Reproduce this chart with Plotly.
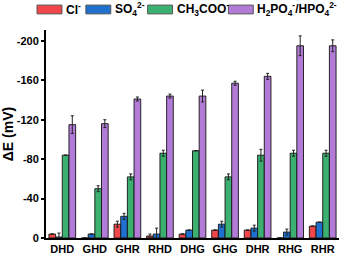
import plotly.graph_objects as go

categories = ["DHD", "GHD", "GHR", "RHD", "DHG", "GHG", "DHR", "RHG", "RHR"]

cl_vals = [-4, 0, -14, -2, -4, -8, -8, 0, -12]
cl_err = [0, 0, 3, 2, 0, 0, 0, 0, 0]
so4_vals = [-1, -4, -22, -4, -8, -14, -10, -6, -16]
so4_err = [4, 0, 3, 6, 0, 3, 3, 3, 0]
ac_vals = [-84, -50, -62, -86, -88.5, -62, -84, -86, -86]
ac_err = [0, 3, 3, 3, 0, 3, 6, 3, 3]
po4_vals = [-115, -116, -141, -144, -144, -157, -164, -195, -195]
po4_err = [9, 4, 2, 2, 6, 2, 3, 10, 6]

series_names = ["Cl<sup>-</sup>", "SO<sub>4</sub><sup>2-</sup>", "CH<sub>3</sub>COO<sup>-</sup>",
                "H<sub>2</sub>PO<sub>4</sub><sup>-</sup>/HPO<sub>4</sub><sup>2-</sup>"]
colors = ["#f2474a", "#1f70cf", "#3bb070", "#b27bd8"]

ytick_vals = [0, -40, -80, -120, -160, -200]
ytick_text = ["0", "-40", "-80", "-120", "-160", "-200"]

fig = go.Figure()
for name, vals, err, col in zip(series_names, [cl_vals, so4_vals, ac_vals, po4_vals],
                                [cl_err, so4_err, ac_err, po4_err], colors):
    fig.add_trace(go.Bar(
        x=categories, y=vals, name=name, marker_color=col,
        marker_line=dict(color="rgba(20,20,20,0.9)", width=1),
        error_y=dict(type="data", array=err, visible=True, color="#222", thickness=1, width=1.5),
        showlegend=False,
    ))

# manual legend
fig_w, fig_h = 341, 257
ml, mr, mt, mb = 45, 2, 30, 14
pw = fig_w - ml - mr
ph = fig_h - mt - mb
def px_x(x):
    return (x - ml) / pw
def px_y(y):
    return (fig_h - mb - y) / ph

legend_x = [36, 85, 147, 228]
for lx, col, name in zip(legend_x, colors, series_names):
    fig.add_shape(type="rect", xref="paper", yref="paper",
                  x0=px_x(lx), x1=px_x(lx + 25), y0=px_y(13.5), y1=px_y(4.5),
                  fillcolor=col, line=dict(color="#555", width=1))
    fig.add_annotation(xref="paper", yref="paper", x=px_x(lx + 27), y=px_y(9),
                       text=name, showarrow=False, xanchor="left", yanchor="middle",
                       font=dict(size=12, color="black", family="Liberation Sans, Arial, sans-serif"))

fig.update_layout(
    width=fig_w, height=fig_h,
    margin=dict(l=ml, r=mr, t=mt, b=mb, pad=0),
    plot_bgcolor="white", paper_bgcolor="white",
    barmode="group", bargap=0.18, bargroupgap=0,
    font=dict(family="Liberation Sans, Arial, sans-serif", color="black", size=11),
    xaxis=dict(showline=True, linecolor="black", linewidth=2, ticks="", showgrid=False,
               tickfont=dict(size=11, family="Liberation Sans, Arial, sans-serif"), ticklabelstandoff=0),
    yaxis=dict(range=[0, -211], showline=True, linecolor="black", linewidth=2, ticks="outside",
               ticklen=3, tickwidth=1.5, tickcolor="black", showgrid=False, zeroline=False,
               tickvals=ytick_vals, ticktext=ytick_text,
               tickfont=dict(size=11, family="Liberation Sans, Arial, sans-serif"),
               title=dict(text="<b>ΔE (mV)</b>", font=dict(size=14), standoff=5)),
)
fig.update_xaxes(tickfont_weight="bold")
fig.update_yaxes(tickfont_weight="bold")
fig.update_annotations(font_weight="bold")

fig.write_html("out.html", config={"displayModeBar": False},
               post_script="document.body.style.margin='0';document.body.style.overflow='hidden';")
